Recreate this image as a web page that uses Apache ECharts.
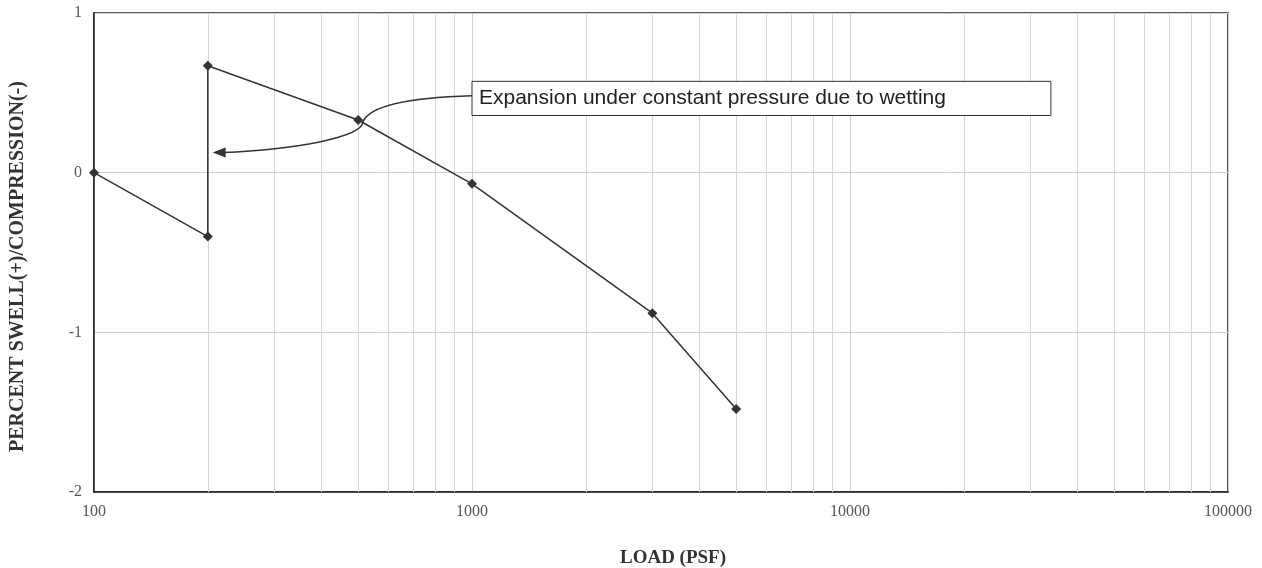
<!DOCTYPE html>
<html><head><meta charset="utf-8">
<script src="https://cdn.jsdelivr.net/npm/echarts@6/dist/echarts.min.js"></script>
<style>html,body{margin:0;padding:0;background:#fff}#c{width:1262px;height:568px}</style>
</head><body><div id="c"></div>
<script>
const loads = [100, 200, 200, 500, 1000, 3000, 5000];
const swell = [0, -0.40, 0.67, 0.33, -0.07, -0.88, -1.48];
const minorLoads = [200,300,400,500,600,700,800,900,2000,3000,4000,5000,6000,7000,8000,9000,20000,30000,40000,50000,60000,70000,80000,90000];
const yMin = -2, yMax = 1, yStep = 1;
const xMin = 100, xMax = 100000;
const xTitle = 'LOAD (PSF)';
const yTitle = 'PERCENT SWELL(+)/COMPRESSION(-)';
const annotationText = 'Expansion under constant pressure due to wetting';
const boxTopLeft = [1000, 0.572];
const boxBottomRight = [34000, 0.358];
const curveMid = [515, 0.32];
const arrowTip = [206, 0.126];

const chart = echarts.init(document.getElementById('c'), null, {renderer: 'canvas'});
const serif = '"Liberation Serif", "Times New Roman", serif';
chart.setOption({
  animation: false,
  backgroundColor: '#fff',
  grid: {left: 94, right: 34, top: 13, bottom: 76, containLabel: false, outerBoundsMode: 'none', show: true, borderColor: '#222', borderWidth: 1.5, backgroundColor: 'transparent'},
  xAxis: {
    type: 'log', logBase: 10, min: xMin, max: xMax,
    name: xTitle, nameLocation: 'middle', nameGap: 57,
    nameTextStyle: {fontFamily: serif, fontWeight: 'bold', fontSize: 19, color: '#333', padding: [0, 0, 0, 24]},
    axisLine: {show: true, onZero: false, lineStyle: {color: '#222', width: 1.5}},
    axisTick: {show: false},
    axisLabel: {fontFamily: serif, fontSize: 16, color: '#555', margin: 12, formatter: v => String(Math.round(v))},
    splitLine: {show: true, lineStyle: {color: '#cfcfcf', width: 1}},
    minorTick: {show: false}, minorSplitLine: {show: false}
  },
  yAxis: {
    type: 'value', min: yMin, max: yMax, interval: yStep,
    name: yTitle, nameLocation: 'middle', nameGap: 66, nameRotate: 90,
    nameTextStyle: {fontFamily: serif, fontWeight: 'bold', fontSize: 20, color: '#333', padding: [0, 28, 0, 0]},
    axisLine: {show: true, onZero: false, lineStyle: {color: '#222', width: 1.5}},
    axisTick: {show: false},
    axisLabel: {fontFamily: serif, fontSize: 16, color: '#555', margin: 12},
    splitLine: {show: true, lineStyle: {color: '#cfcfcf', width: 1}}
  },
  series: [
    {
      type: 'line', data: [], silent: true, z: 1,
      markLine: {
        silent: true, symbol: 'none', label: {show: false},
        lineStyle: {color: '#d6d6d6', width: 1, type: 'solid'},
        data: minorLoads.map(v => ({xAxis: v}))
      }
    },
    {
      type: 'line', z: 5,
      data: loads.map((x, i) => [x, swell[i]]),
      symbol: 'diamond', symbolSize: 10,
      itemStyle: {color: '#333'},
      lineStyle: {color: '#333', width: 1.5}
    }
  ]
});

const px = p => chart.convertToPixel({xAxisIndex: 0, yAxisIndex: 0}, p);
const b0 = px(boxTopLeft), b1 = px(boxBottomRight);
const m = px(curveMid), t = px(arrowTip);
const sy = b0[1] + (b1[1] - b0[1]) * 0.42;
chart.setOption({
  graphic: [
    {type: 'bezierCurve', z: 10, shape: {x1: b0[0], y1: sy, x2: m[0], y2: m[1], cpx1: b0[0] - 70, cpy1: sy + 2, cpx2: m[0] + 6, cpy2: m[1] - 14}, style: {stroke: '#333', lineWidth: 1.6, fill: null}},
    {type: 'bezierCurve', z: 10, shape: {x1: m[0], y1: m[1], x2: t[0] + 10, y2: t[1], cpx1: m[0], cpy1: m[1] + 16, cpx2: m[0] - 70, cpy2: t[1] - 3}, style: {stroke: '#333', lineWidth: 1.6, fill: null}},
    {type: 'polygon', z: 10, shape: {points: [[t[0], t[1]], [t[0] + 13, t[1] - 5], [t[0] + 13, t[1] + 5]]}, style: {fill: '#333'}},
    {type: 'rect', z: 10, shape: {x: b0[0], y: b0[1], width: b1[0] - b0[0], height: b1[1] - b0[1]}, style: {fill: '#fff', stroke: '#333', lineWidth: 1}},
    {type: 'text', z: 11, x: b0[0] + 7, y: (b0[1] + b1[1]) / 2, style: {text: annotationText, font: '21px "Liberation Sans", Arial, sans-serif', fill: '#222', verticalAlign: 'middle', align: 'left'}}
  ]
});
</script></body></html>
